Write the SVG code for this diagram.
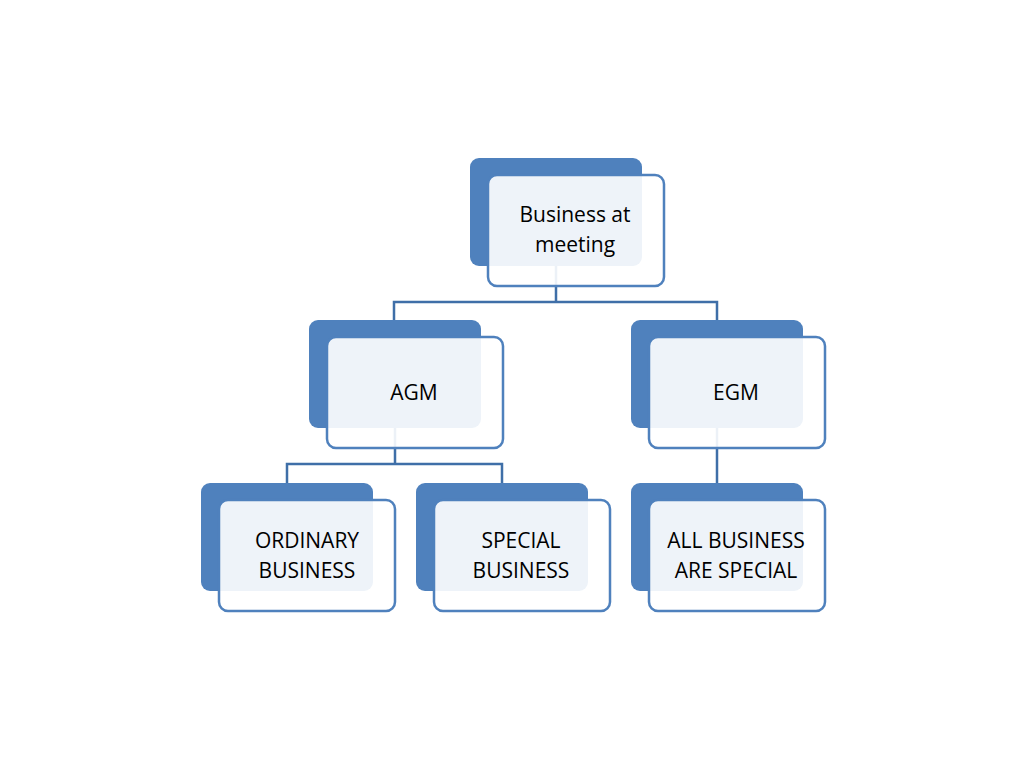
<svg xmlns="http://www.w3.org/2000/svg" width="1024" height="768" viewBox="0 0 1024 768">
<style>
.b{fill:#4f81bd}
.f{fill:#fff;fill-opacity:0.9;stroke:#4f81bd;stroke-width:2.5}
.t{font-family:"Open Sans","Liberation Sans",sans-serif;font-size:21px;fill:#000;text-anchor:middle}
.c{fill:none;stroke:#3f6fa8;stroke-width:2.5}
</style>
<rect width="1024" height="768" fill="#fff"/>
<g id="connectors">
<path class="c" d="M556 266V302M394 320V302H717V320"/>
<path class="c" d="M395 428V464M287 483V464H502V483"/>
<path class="c" d="M717 428V483"/>
</g>
<g id="n0"><rect class="b" x="470" y="158" width="172" height="108" rx="9"/><rect class="f" x="488" y="175" width="176" height="111" rx="9"/><text class="t" x="575" y="222">Business at</text><text class="t" x="575" y="252">meeting</text></g>
<g id="n1"><rect class="b" x="309" y="320" width="172" height="108" rx="9"/><rect class="f" x="327" y="337" width="176" height="111" rx="9"/><text class="t" x="414" y="400">AGM</text></g>
<g id="n2"><rect class="b" x="631" y="320" width="172" height="108" rx="9"/><rect class="f" x="649" y="337" width="176" height="111" rx="9"/><text class="t" x="736" y="400">EGM</text></g>
<g id="n3"><rect class="b" x="201" y="483" width="172" height="108" rx="9"/><rect class="f" x="219" y="500" width="176" height="111" rx="9"/><text class="t" x="307" y="548">ORDINARY</text><text class="t" x="307" y="578">BUSINESS</text></g>
<g id="n4"><rect class="b" x="416" y="483" width="172" height="108" rx="9"/><rect class="f" x="434" y="500" width="176" height="111" rx="9"/><text class="t" x="521" y="548">SPECIAL</text><text class="t" x="521" y="578">BUSINESS</text></g>
<g id="n5"><rect class="b" x="631" y="483" width="172" height="108" rx="9"/><rect class="f" x="649" y="500" width="176" height="111" rx="9"/><text class="t" x="736" y="548">ALL BUSINESS</text><text class="t" x="736" y="578">ARE SPECIAL</text></g>
</svg>
